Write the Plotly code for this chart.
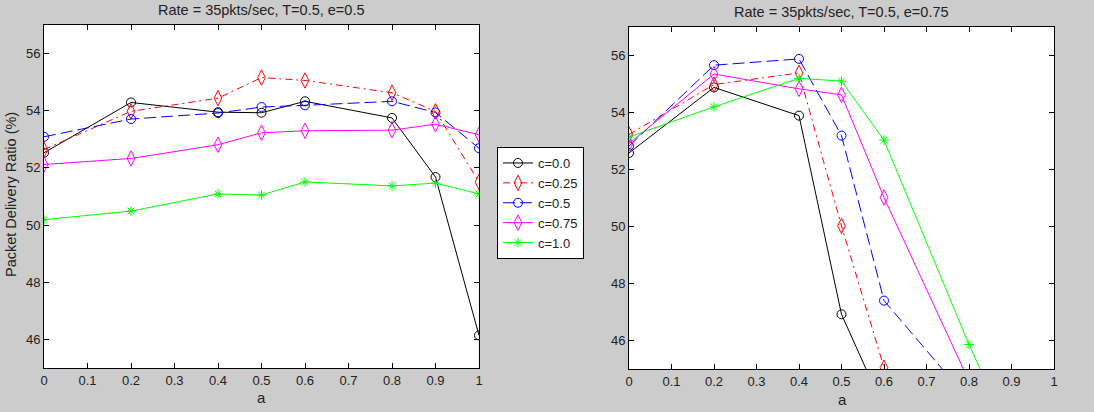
import plotly.graph_objects as go

a_vals = [0, 0.2, 0.4, 0.5, 0.6, 0.8, 0.9, 1.0]
series_names = ["c=0.0", "c=0.25", "c=0.5", "c=0.75", "c=1.0"]

# e = 0.5 (left)
left_c00 = [52.53, 54.29, 53.95, 53.93, 54.33, 53.75, 51.68, 46.14]
left_c025 = [52.64, 53.98, 54.44, 55.16, 55.06, 54.63, 53.98, 51.51]
left_c05 = [53.09, 53.71, 53.92, 54.13, 54.19, 54.33, 53.94, 52.69]
left_c075 = [52.12, 52.33, 52.81, 53.23, 53.30, 53.32, 53.53, 53.16]
left_c10 = [50.19, 50.49, 51.09, 51.05, 51.51, 51.37, 51.47, 51.09]

# e = 0.75 (right)
right_c00 = [52.58, 54.88, 53.89, 46.92, 43.6, 40.0, 38.0, 36.0]
right_c025 = [53.23, 54.98, 55.39, 50.02, 45.05, 40.0, 38.0, 36.0]
right_c05 = [52.82, 55.66, 55.88, 53.19, 47.40, 43.9, 41.0, 39.0]
right_c075 = [52.91, 55.35, 54.83, 54.62, 51.02, 44.58, 42.0, 40.0]
right_c10 = [53.14, 54.20, 55.20, 55.10, 53.03, 45.86, 42.6, 40.0]

x_ticks = [0, 0.1, 0.2, 0.3, 0.4, 0.5, 0.6, 0.7, 0.8, 0.9, 1]
x_ticklabels = ["0", "0.1", "0.2", "0.3", "0.4", "0.5", "0.6", "0.7", "0.8", "0.9", "1"]
y_ticks = [46, 48, 50, 52, 54, 56]

colors = ["#000000", "#ff0000", "#0000ff", "#ff00ff", "#00ff00"]
dashes = ["solid", "7px,4px,2px,4px", "12px,5px", "solid", "solid"]
symbols = ["circle-open", "diamond-tall-open", "circle-open", "diamond-tall-open", "asterisk-open"]
sizes = [9, 11, 9, 11, 8]

left_data = [left_c00, left_c025, left_c05, left_c075, left_c10]
right_data = [right_c00, right_c025, right_c05, right_c075, right_c10]

fig = go.Figure()
for i, name in enumerate(series_names):
    fig.add_trace(go.Scatter(
        x=a_vals, y=left_data[i], name=name, mode="lines+markers",
        line=dict(color=colors[i], width=1, dash=dashes[i]),
        marker=dict(symbol=symbols[i], size=sizes[i],
                    color=colors[i], line=dict(width=1, color=colors[i])),
        xaxis="x", yaxis="y", cliponaxis=True, legendgroup=name, showlegend=True))
for i, name in enumerate(series_names):
    fig.add_trace(go.Scatter(
        x=a_vals, y=right_data[i], name=name, mode="lines+markers",
        line=dict(color=colors[i], width=1, dash=dashes[i]),
        marker=dict(symbol=symbols[i], size=sizes[i],
                    color=colors[i], line=dict(width=1, color=colors[i])),
        xaxis="x2", yaxis="y2", cliponaxis=True, legendgroup=name, showlegend=False))

axis_common = dict(
    showgrid=False, zeroline=False, showline=True, linecolor="black", linewidth=1,
    mirror="ticks", ticks="inside", ticklen=5, tickcolor="black", automargin=False,
    tickfont=dict(family="Arial, Liberation Sans", size=13, color="#222222"),
)

fig.update_layout(
    width=1094, height=412,
    margin=dict(l=0, r=0, t=0, b=0, pad=0),
    paper_bgcolor="#cccccc", plot_bgcolor="white",
    font=dict(family="Arial, Liberation Sans", size=13, color="#222222"),
    xaxis=dict(domain=[44/1094, 479/1094], range=[0, 1], tickvals=x_ticks, ticktext=x_ticklabels,
               anchor="y", **axis_common),
    yaxis=dict(domain=[(412-368)/412, (412-25)/412], range=[45, 57], tickvals=y_ticks,
               anchor="x", **axis_common),
    xaxis2=dict(domain=[629/1094, 1054/1094], range=[0, 1], tickvals=x_ticks, ticktext=x_ticklabels,
                anchor="y2", **axis_common),
    yaxis2=dict(domain=[(412-369)/412, (412-27)/412], range=[45, 57], tickvals=y_ticks,
                anchor="x2", **axis_common),
    legend=dict(x=497/1094, y=(412-147)/412, xanchor="left", yanchor="top",
                bgcolor="white", bordercolor="black", borderwidth=1,
                font=dict(family="Arial, Liberation Sans", size=13, color="#222222"),
                tracegroupgap=0, itemwidth=30, entrywidth=52),
    showlegend=True,
    annotations=[
        dict(text="Rate = 35pkts/sec, T=0.5, e=0.5", x=261.5/1094, y=(412-10)/412,
             xanchor="center", yanchor="middle",
             xref="paper", yref="paper", showarrow=False, font=dict(size=14.5)),
        dict(text="Rate = 35pkts/sec, T=0.5, e=0.75", x=841/1094, y=(412-12)/412,
             xanchor="center", yanchor="middle",
             xref="paper", yref="paper", showarrow=False, font=dict(size=14.5)),
        dict(text="a", x=261.5/1094, y=(412-397)/412, xref="paper", yref="paper",
             xanchor="center", yanchor="middle",
             showarrow=False, font=dict(size=15)),
        dict(text="a", x=842/1094, y=(412-399)/412, xref="paper", yref="paper",
             xanchor="center", yanchor="middle",
             showarrow=False, font=dict(size=15)),
        dict(text="Packet Delivery Ratio (%)", x=11/1094, y=(412-195)/412, xref="paper",
             xanchor="center", yanchor="middle",
             yref="paper", showarrow=False, textangle=-90, font=dict(size=14.5)),
    ],
)

fig.write_html(
    "out.html",
    config={"displayModeBar": False},
    post_script="document.body.style.margin='0';document.body.style.background='#cccccc';",
)
